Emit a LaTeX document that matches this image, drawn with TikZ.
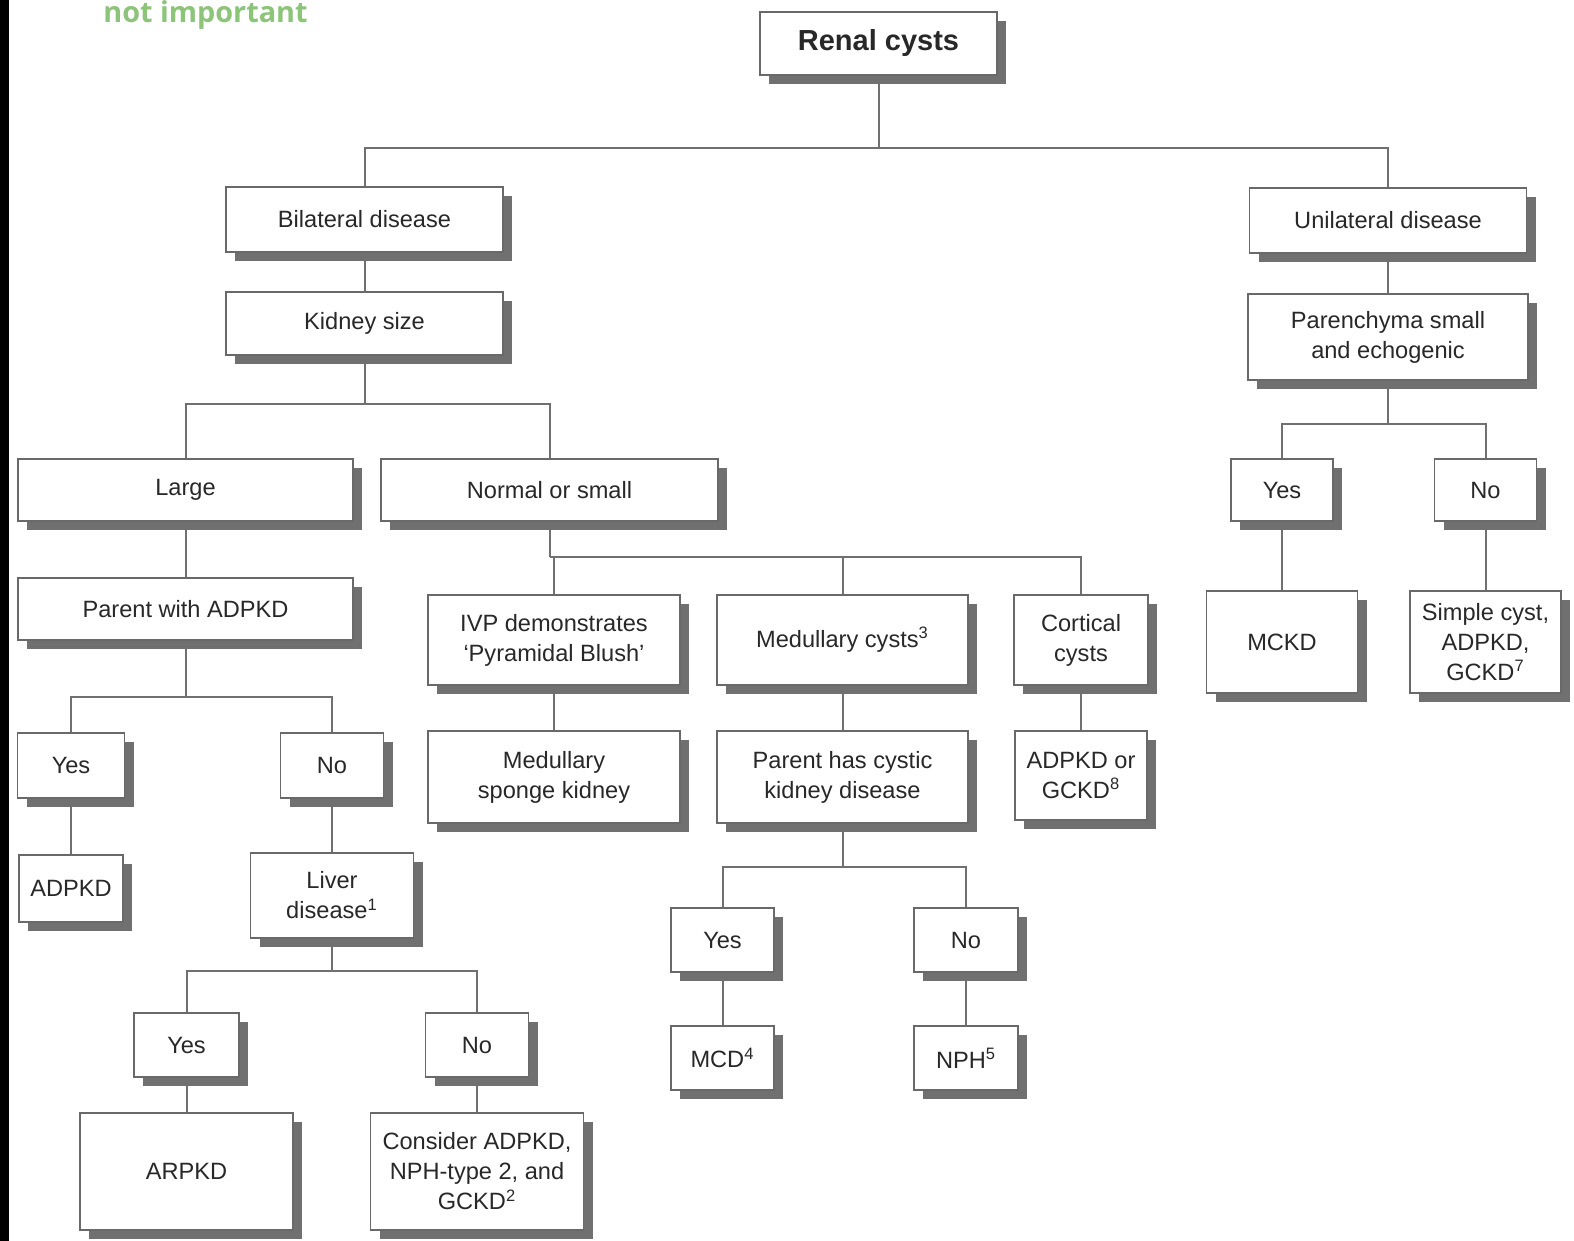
\documentclass[tikz,border=0pt]{standalone}
\usepackage{fontspec}
\setmainfont{Liberation Sans}
\newfontfamily\notefont{Open Sans}
\usetikzlibrary{shadows}
\definecolor{lline}{RGB}{112,112,112}
\definecolor{bline}{RGB}{105,105,105}
\definecolor{sfill}{RGB}{112,112,112}
\definecolor{tcol}{RGB}{40,40,40}
\definecolor{ngreen}{RGB}{140,196,122}

\begin{document}
\begin{tikzpicture}[
  x=0.5pt, y=-0.5pt,
  font=\fontsize{11.8}{15}\selectfont,
  box/.style={draw=bline, fill=white, line width=0.9pt, text=tcol, align=center,
              inner sep=0pt,
              drop shadow={shadow xshift=4.5pt, shadow yshift=-4.5pt, fill=sfill, opacity=1}},
  sz/.style 2 args={minimum width=#1*0.5pt, minimum height=#2*0.5pt},
  link/.style={draw=lline, line width=1pt},
]
\useasboundingbox (0,0) rectangle (1574,1241);
\fill[black] (0,0) rectangle (9,1241);
\node[anchor=base west, inner sep=0pt, text=ngreen,
      font=\notefont\bfseries\fontsize{14.4}{16}\selectfont] (note) at (103,23) {not important};

% top
\node[box, sz={237}{63}, font=\fontsize{14.5}{17}\selectfont\bfseries] (rc) at (878.5,43.5) {Renal cysts};
\node[box, sz={277}{65}] (bil) at (364.5,219.5) {Bilateral disease};
\node[box, sz={277}{65}] (uni) at (1388,220.5) {Unilateral disease};
\node[box, sz={277}{63}] (ksz) at (364.5,323.5) {Kidney size};
\node[box, sz={280}{86}] (par) at (1388,337) {Parenchyma small\\and echogenic};

% kidney size
\node[box, sz={335}{62}] (lrg) at (185.5,490) {Large};
\node[box, sz={337}{62}] (nos) at (549.5,490) {Normal or small};
\node[box, sz={102}{62}] (ryes) at (1282,490) {Yes};
\node[box, sz={102}{62}] (rno) at (1485.5,490) {No};
\node[box, sz={151}{102}] (mckd) at (1282,642) {MCKD};
\node[box, sz={151}{102}] (simp) at (1485.5,642) {Simple cyst,\\ADPKD,\\GCKD\textsuperscript{7}};

% large kidneys
\node[box, sz={335}{62}] (pad) at (185.5,609) {Parent with ADPKD};
\node[box, sz={107}{65}] (lyes) at (71,765.5) {Yes};
\node[box, sz={103}{65}] (lno) at (332,765.5) {No};
\node[box, sz={104}{67}] (adpkd) at (71,888.5) {ADPKD};
\node[box, sz={163}{85}] (liv) at (332,895.5) {Liver\\disease\textsuperscript{1}};
\node[box, sz={105}{64}] (lvyes) at (186.5,1045) {Yes};
\node[box, sz={103}{64}] (lvno) at (477,1045) {No};
\node[box, sz={213}{117}] (arpkd) at (186.5,1171.5) {ARPKD};
\node[box, sz={213}{117}] (cons) at (477,1171.5) {Consider ADPKD,\\NPH-type 2, and\\GCKD\textsuperscript{2}};

% normal or small kidneys
\node[box, sz={252}{90}] (ivp) at (554,640) {IVP demonstrates\\`Pyramidal Blush'};
\node[box, sz={251}{90}] (medc) at (842.5,640) {Medullary cysts\textsuperscript{3}};
\node[box, sz={134}{90}] (cort) at (1081,640) {Cortical\\cysts};
\node[box, sz={252}{92}] (msk) at (554,777) {Medullary\\sponge kidney};
\node[box, sz={251}{92}] (pcd) at (842.5,777) {Parent has cystic\\kidney disease};
\node[box, sz={132}{89}] (adg) at (1081,775.5) {ADPKD or\\GCKD\textsuperscript{8}};
\node[box, sz={103}{64}] (pyes) at (722.5,940) {Yes};
\node[box, sz={104}{64}] (pno) at (966,940) {No};
\node[box, sz={103}{64}] (mcd) at (722.5,1058) {MCD\textsuperscript{4}};
\node[box, sz={104}{64}] (nph) at (966,1058) {NPH\textsuperscript{5}};

% branch points
\coordinate (j1) at (878.5,148);
\coordinate (j2) at (364.5,404);
\coordinate (j3) at (1388,424);
\coordinate (j4) at (185.5,697);
\coordinate (j5) at (332,971);
\coordinate (j6) at (549.5,557);
\coordinate (j7) at (842.5,867);

\draw[link] (rc) -- (j1);
\draw[link] (j1) -| (bil);
\draw[link] (j1) -| (uni);
\draw[link] (bil) -- (ksz);
\draw[link] (uni) -- (par);
\draw[link] (ksz) -- (j2);
\draw[link] (j2) -| (lrg);
\draw[link] (j2) -| (nos);
\draw[link] (par) -- (j3);
\draw[link] (j3) -| (ryes);
\draw[link] (j3) -| (rno);
\draw[link] (ryes) -- (mckd);
\draw[link] (rno) -- (simp);
\draw[link] (lrg) -- (pad);
\draw[link] (pad) -- (j4);
\draw[link] (j4) -| (lyes);
\draw[link] (j4) -| (lno);
\draw[link] (lyes) -- (adpkd);
\draw[link] (lno) -- (liv);
\draw[link] (liv) -- (j5);
\draw[link] (j5) -| (lvyes);
\draw[link] (j5) -| (lvno);
\draw[link] (lvyes) -- (arpkd);
\draw[link] (lvno) -- (cons);
\draw[link] (nos) -- (j6);
\draw[link] (j6) -| (ivp);
\draw[link] (j6) -| (medc);
\draw[link] (j6) -| (cort);
\draw[link] (ivp) -- (msk);
\draw[link] (medc) -- (pcd);
\draw[link] (cort) -- (adg);
\draw[link] (pcd) -- (j7);
\draw[link] (j7) -| (pyes);
\draw[link] (j7) -| (pno);
\draw[link] (pyes) -- (mcd);
\draw[link] (pno) -- (nph);
\end{tikzpicture}
\end{document}
